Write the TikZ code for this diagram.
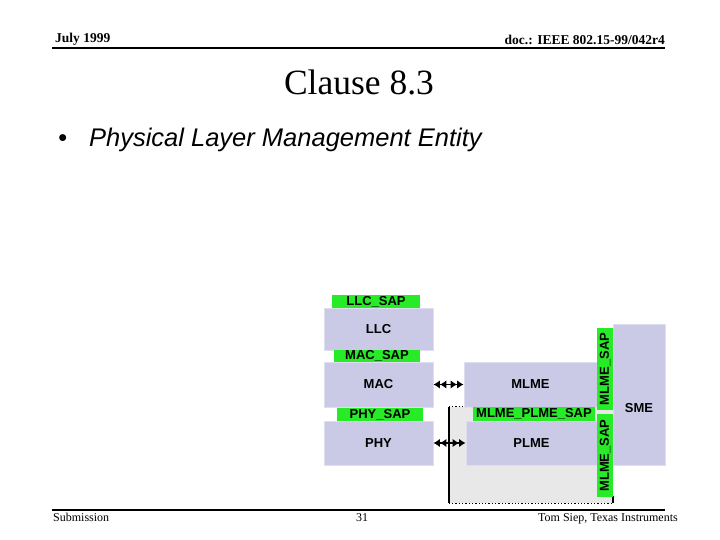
\documentclass[tikz,border=0pt]{standalone}
\usepackage{fontspec}
\setmainfont{Liberation Serif}
\setsansfont{Liberation Sans}
\usetikzlibrary{arrows.meta}
\definecolor{lav}{RGB}{202,202,230}
\definecolor{lavedge}{RGB}{222,222,238}
\definecolor{sapgreen}{RGB}{40,235,40}
\definecolor{graybg}{RGB}{232,232,232}
\tikzset{
  box/.style={fill=lav, draw=lavedge, line width=0.8pt, inner sep=0pt,
    font=\sffamily\bfseries\fontsize{13}{15}\selectfont},
  sapbox/.style={fill=sapgreen, draw=none, inner sep=0pt,
    font=\sffamily\bfseries\fontsize{13}{15}\selectfont},
  dblarrow/.style={line width=1.5pt,
    arrows={Latex[length=6.5pt,width=8.5pt]Latex[length=6.5pt,width=8.5pt]-Latex[length=6.5pt,width=8.5pt]Latex[length=6.5pt,width=8.5pt]}},
  hdr/.style={font=\bfseries\fontsize{13.5}{15}\selectfont, inner sep=0pt},
  ftr/.style={font=\fontsize{12}{14}\selectfont, inner sep=0pt}
}
\begin{document}
\begin{tikzpicture}[x=1pt,y=-1pt]
\useasboundingbox (0,0) rectangle (720,540);
% header
\node[hdr, anchor=base west] (date) at (55,43) {July 1999};
\node[hdr, anchor=base east] (doc) at (665,45) {doc.: IEEE 802.15-99/042r4};
\coordinate (hl) at (52,48);
\coordinate (hr) at (665,48);
\draw[line width=1.8pt] (hl) -- (hr);
% title
\node[inner sep=0pt, anchor=base, font=\fontsize{35.5}{40}\selectfont] (title) at (359,95) {Clause 8.3};
\node[inner sep=0pt, anchor=base west, font=\sffamily\itshape\fontsize{25.5}{30}\selectfont] (bullet) at (58,147) {•\hspace{22pt}Physical Layer Management Entity};
% gray area
\node[fill=graybg, inner sep=0pt, minimum width=164, minimum height=96] (area) at (531,455) {};
\draw[dotted, line width=1.3pt] (area.north west) -- (area.north east);
\draw[dotted, line width=1.3pt] (area.south west) -- (area.south east);
\draw[line width=1.5pt] (area.north west) -- (area.south west);
\draw[line width=1.5pt] ([yshift=7pt]area.south east) -- (area.south east);
% stack
\node[sapbox, minimum width=88, minimum height=13] (llcsap) at (376,301.5) {LLC\_SAP};
\node[box, minimum width=109, minimum height=42] (llc) at (378.5,329) {LLC};
\node[sapbox, minimum width=86, minimum height=12] (macsap) at (377,356) {MAC\_SAP};
\node[box, minimum width=109, minimum height=45] (mac) at (378.5,384.5) {MAC};
\node[sapbox, minimum width=86, minimum height=13] (physap) at (380,414.5) {PHY\_SAP};
\node[box, minimum width=109, minimum height=44] (phy) at (378.5,443) {PHY};
% management
\node[box, minimum width=133, minimum height=45] (mlme) at (530.5,384.5) {MLME};
\node[sapbox, minimum width=122, minimum height=14] (mpsap) at (534,414) {MLME\_PLME\_SAP};
\node[box, minimum width=131, minimum height=44] (plme) at (531.5,443) {PLME};
\node[box, minimum width=52, minimum height=141] (sme) at (639,394.5) {};
\node[inner sep=0pt, font=\sffamily\bfseries\fontsize{13}{15}\selectfont] (smetext) at (639,408) {SME};
\node[sapbox, rotate=90, minimum width=82, minimum height=16] (msapup) at (605,369) {MLME\_SAP};
\node[sapbox, rotate=90, minimum width=83, minimum height=16] (msaplow) at (605,455.5) {MLME\_SAP};
% arrows
\draw[dblarrow] (mac.east) -- (mlme.west);
\draw[dblarrow] (phy.east) -- (plme.west);
% footer
\coordinate (fl) at (52,510);
\coordinate (fr) at (665,510);
\draw[line width=1.8pt] (fl) -- (fr);
\node[ftr, anchor=base west] (sub) at (53,521) {Submission};
\node[ftr, anchor=base] (page) at (362,521) {31};
\node[ftr, anchor=base east] (auth) at (678,521) {Tom Siep, Texas Instruments};
\end{tikzpicture}
\end{document}
